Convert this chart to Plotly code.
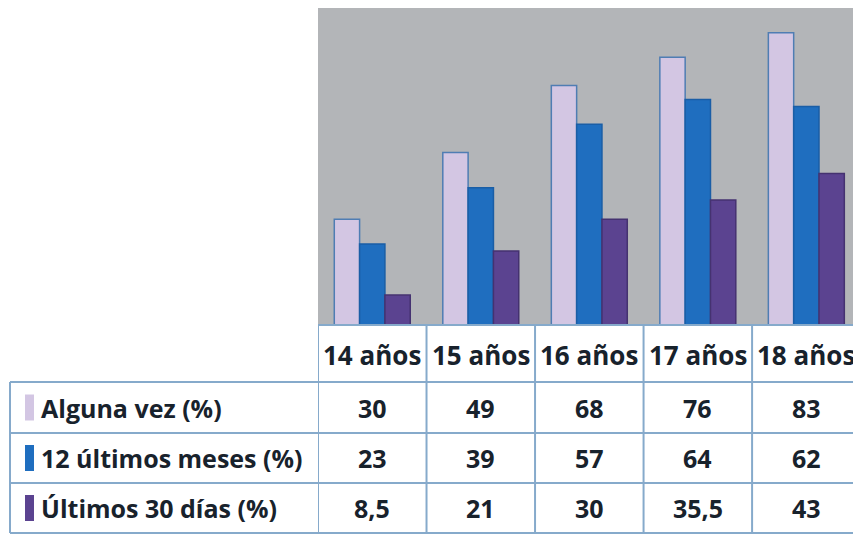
import plotly.graph_objects as go

categories = ["14 años", "15 años", "16 años", "17 años", "18 años"]
series_names = ["Alguna vez (%)", "12 últimos meses (%)", "Últimos 30 días (%)"]
alguna_vez = [30, 49, 68, 76, 83]
ultimos_12_meses = [23, 39, 57, 64, 62]
ultimos_30_dias = [8.5, 21, 30, 35.5, 43]

series_values = [alguna_vez, ultimos_12_meses, ultimos_30_dias]
fill_colors = ["#d3c6e3", "#1f6ebf", "#5b4390"]
edge_colors = ["#4f7db3", "#1a5ea6", "#453270"]

W, H = 853, 535
grid_color = "#86aacb"
text_color = "#18222c"
font_family = "Open Sans"


def py(pix):
    # pixel row -> paper y
    return 1 - pix / H


def px(pix):
    return pix / W


def fmt(v):
    s = ("%g" % v)
    return s.replace(".", ",")


fig = go.Figure()
for name, vals, fc, ec in zip(series_names, series_values, fill_colors, edge_colors):
    fig.add_trace(go.Bar(x=categories, y=vals, name=name, marker=dict(color=fc, line=dict(color=ec, width=1.5))))

# table geometry (pixels)
header_top, row_tops, table_bottom = 325, [382, 433, 483], 533
table_left = 10

shapes = []
annotations = []

# horizontal lines
for yy in row_tops + [table_bottom]:
    shapes.append(dict(type="line", xref="paper", yref="paper", x0=px(table_left), x1=1, y0=py(yy), y1=py(yy),
                       line=dict(color=grid_color, width=2)))
shapes.append(dict(type="line", xref="paper", yref="paper", x0=px(318), x1=1, y0=py(header_top), y1=py(header_top),
                   line=dict(color=grid_color, width=2)))
# left border of the label column
shapes.append(dict(type="line", xref="paper", yref="paper", x0=px(table_left), x1=px(table_left),
                   y0=py(row_tops[0]), y1=py(table_bottom), line=dict(color=grid_color, width=2)))
# column separators, on category boundaries
for i in range(len(categories)):
    shapes.append(dict(type="line", xref="x", yref="paper", x0=i - 0.5, x1=i - 0.5,
                       y0=py(table_bottom), y1=py(header_top), line=dict(color=grid_color, width=2)))

# header labels
for cat in categories:
    annotations.append(dict(x=cat, y=py((header_top + row_tops[0]) / 2 + 1), xref="x", yref="paper", text=cat,
                            xanchor="center", yanchor="middle", showarrow=False,
                            font=dict(size=26, color=text_color, family=font_family, weight="bold")))

# rows: swatch, label, values
row_edges = row_tops + [table_bottom]
for r, (name, vals, fc) in enumerate(zip(series_names, series_values, fill_colors)):
    y0, y1 = row_edges[r], row_edges[r + 1]
    ymid = (y0 + y1) / 2
    shapes.append(dict(type="rect", xref="paper", yref="paper", x0=px(25), x1=px(34),
                       y0=py(ymid + 13), y1=py(ymid - 13), fillcolor=fc, line=dict(width=0)))
    annotations.append(dict(x=px(39), y=py(ymid), xref="paper", yref="paper", text=name,
                            xanchor="left", yanchor="middle", showarrow=False,
                            font=dict(size=25, color=text_color, family=font_family, weight="bold")))
    for cat, v in zip(categories, vals):
        annotations.append(dict(x=cat, y=py(ymid), xref="x", yref="paper", text=fmt(v),
                                xanchor="center", yanchor="middle", showarrow=False,
                                font=dict(size=25, color=text_color, family=font_family, weight="bold")))

fig.update_layout(
    width=W, height=H,
    margin=dict(l=0, r=0, t=0, b=0),
    paper_bgcolor="white",
    plot_bgcolor="#b3b5b8",
    barmode="group", bargap=0.30, bargroupgap=0,
    showlegend=False,
    shapes=shapes,
    annotations=annotations,
)
fig.update_xaxes(domain=[px(318), 1], range=[-0.5, 4.43], showticklabels=False, ticks="",
                 showgrid=False, zeroline=False, showline=False)
fig.update_yaxes(domain=[py(325), py(8)], range=[0, 90], showticklabels=False, ticks="",
                 showgrid=False, zeroline=False, showline=False)

# drop the default page margin so the figure sits at the window's corner
fig.write_html("out.html", config={"displayModeBar": False},
               post_script="document.body.style.margin='0';")
